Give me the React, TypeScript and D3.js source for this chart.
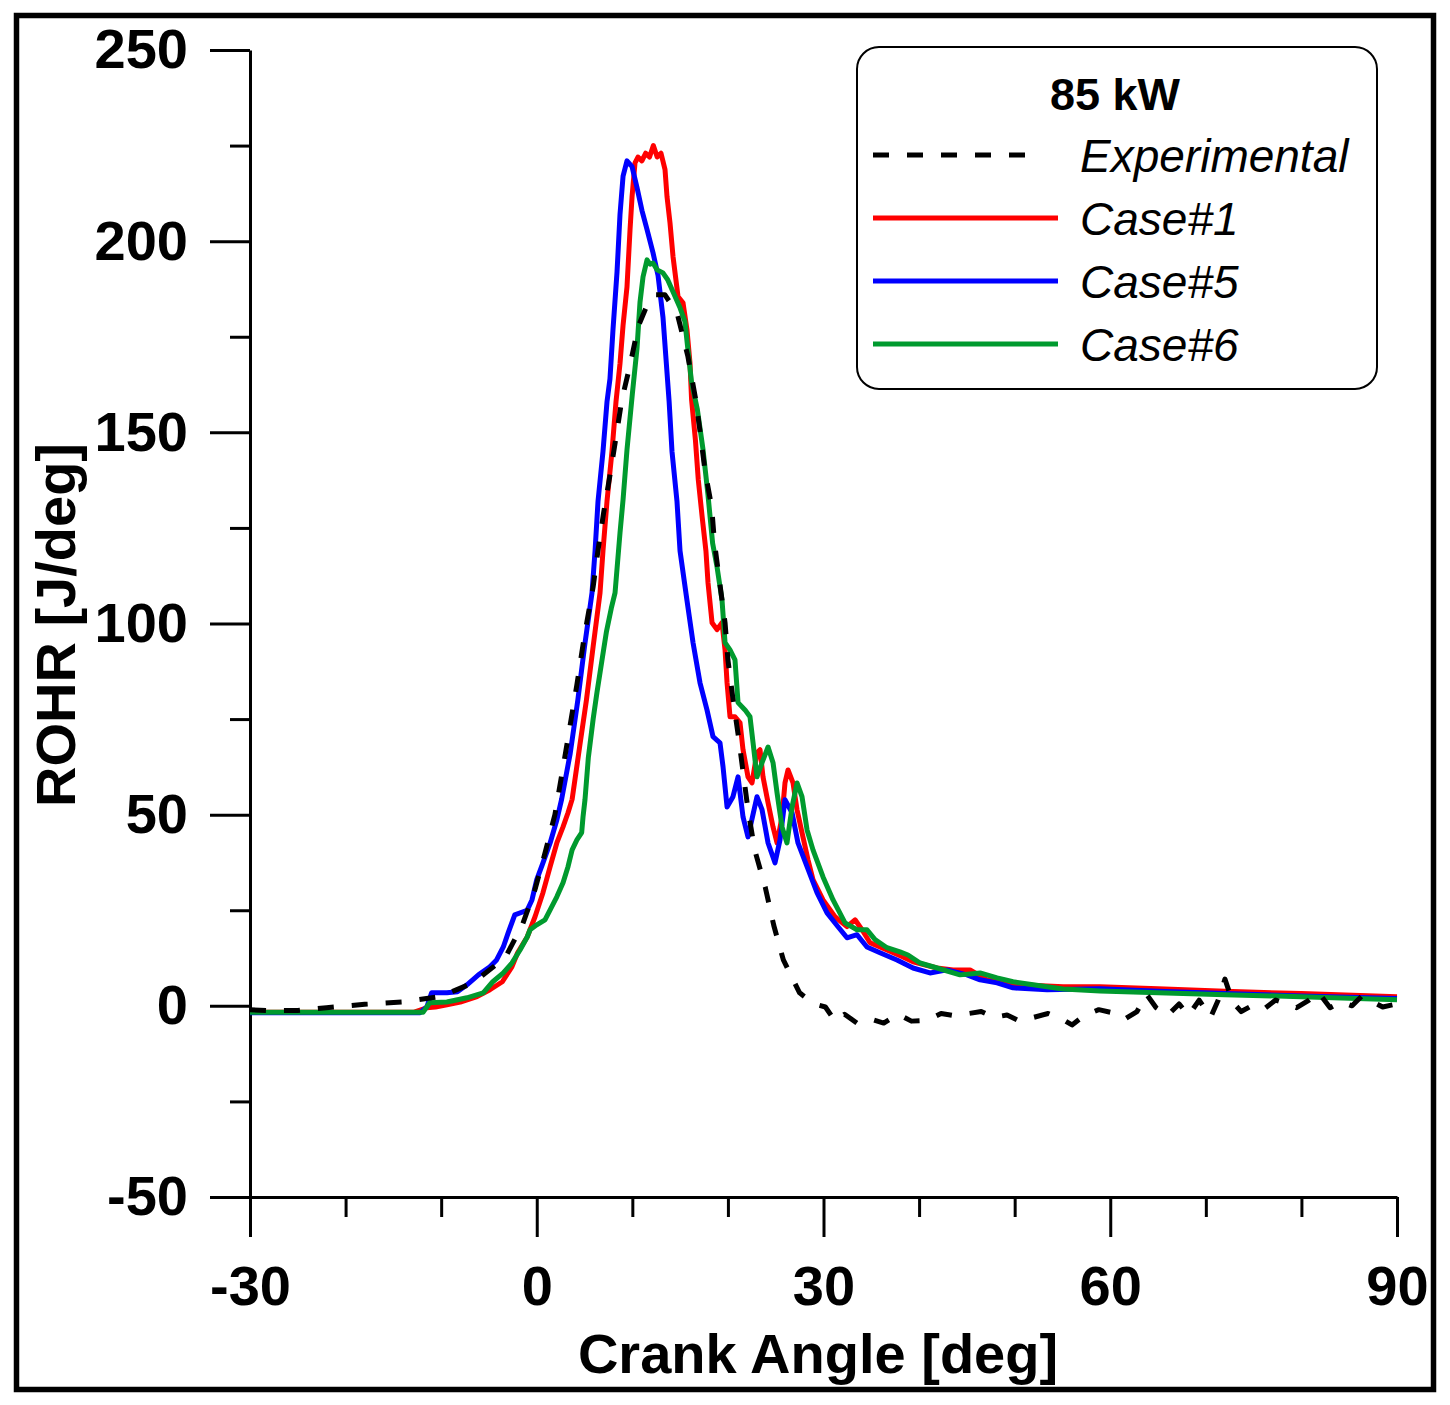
import React, { useEffect, useRef } from "react";
import * as d3 from "d3";

type Pt = [number, number];

// Crank angle [deg], ROHR [J/deg]
const experimental: Pt[] = [
  [-30, -1], [-28, -1.3], [-25, -1.2], [-22, -0.5], [-18, 0.4], [-14.1, 1], [-10.1, 2.4],
  [-6.7, 6], [-3.3, 12.6], [-1.5, 21.2], [-0.2, 30.3], [0.9, 40.3], [1.9, 50], [3, 66],
  [4.2, 84], [5.0, 97], [5.9, 109.6], [6.4, 119], [7.0, 129], [7.7, 139.4], [8.3, 148.8],
  [8.9, 158.5], [9.8, 168], [10.6, 177.6], [11.5, 183], [12.4, 186], [13.4, 186], [14.2, 183],
  [14.7, 181], [15.8, 170], [16.6, 159], [17.1, 150], [17.6, 140], [18.3, 130.5], [18.6, 121],
  [19.2, 109.6], [19.7, 100.2], [20.0, 90.5], [20.5, 80.8], [21.1, 70.4], [21.6, 60.9],
  [22.1, 51.3], [22.8, 40.8], [23.9, 31.1], [24.8, 21], [25.8, 12], [27.5, 3.4], [29, 0.5],
  [30.2, -0.3], [31.2, -4], [32.2, -2.2], [33.5, -4.5], [35, -3.5], [36.3, -4.5], [37.8, -2.2],
  [39.2, -4], [40.8, -3.8], [42.3, -2], [43.8, -2.6], [45.2, -2], [46.5, -1.5], [47.8, -3],
  [49.2, -2.4], [50.5, -4], [52, -3], [53.5, -2], [55, -3.5], [56, -5], [57.3, -2.5], [58.8, -1],
  [60.2, -1.8], [61.5, -3.5], [62.8, -1.5], [63.8, 3], [64.8, -0.5], [66, -2.5], [67.2, 0.5],
  [68.2, -2.5], [69.3, 1.5], [70.5, -3], [71.3, 1.5], [72, 7], [72.8, 1], [73.7, -1.5], [74.8, 0],
  [76, -1], [77.3, 1.5], [78.5, 0.5], [79.5, -0.5], [80.8, 1.5], [81.8, 3.5], [83, -0.5],
  [84.2, 1], [85.3, 0], [86.3, 2.5], [87.5, 1], [88.5, -0.3], [90, 0.5],
];

const case1: Pt[] = [
  [-30, -1.7], [-12.9, -1.7], [-11.5, -0.5], [-10.6, -0.3], [-9.4, 0.3], [-8.0, 1], [-6.25, 2.4],
  [-4.9, 4.2], [-3.6, 6.3], [-2.6, 10.2], [-2.0, 13.9], [-1.0, 18], [-0.18, 23.3], [0.65, 29.6],
  [1.4, 36.4], [2.1, 42.6], [2.75, 46.8], [3.27, 50.5], [3.7, 54], [4.5, 68], [5.2, 80], [5.9, 94],
  [6.62, 108], [6.93, 119], [7.35, 132], [7.87, 145], [8.29, 158], [8.71, 168], [9.03, 178],
  [9.44, 188], [9.76, 203], [9.97, 211.6], [10.28, 220.5], [10.59, 222], [11.0, 221], [11.4, 223],
  [11.8, 222], [12.2, 225], [12.6, 222], [13.0, 223], [13.42, 218.7], [13.63, 211.6], [13.94, 204.8],
  [14.26, 195.9], [14.78, 185.5], [15.3, 183.9], [15.72, 176.8], [16.03, 168.2], [16.2, 158.5],
  [16.6, 148], [16.9, 137.6], [17.3, 128], [17.7, 119], [17.92, 110.6], [18.34, 100.2], [18.86, 98.4],
  [19.38, 100.2], [19.7, 93.1], [19.91, 84.5], [20.22, 75.6], [20.74, 75.6], [21.27, 74], [21.58, 67],
  [22.1, 59.9], [22.52, 58.3], [23.04, 66.2], [23.36, 67], [23.67, 59.9], [24.2, 53.1], [24.72, 46.8],
  [25.14, 42.6], [25.66, 49.4], [25.97, 58.3], [26.29, 61.7], [26.81, 58.3], [27.23, 51.3],
  [27.75, 45.3], [28.38, 38.2], [28.9, 33], [29.95, 27.7], [31.2, 23.3], [32.46, 20.7], [33.3, 22.5],
  [34.03, 19.9], [34.87, 16.5], [36.64, 14.6], [38.32, 12.8], [39.37, 11.5], [41.88, 9.9],
  [43.55, 9.4], [45.33, 9.4], [47.11, 6.8], [50.56, 5.5], [55.06, 5], [58.93, 5], [65, 4.5],
  [72, 3.8], [80, 3.2], [90, 2.4],
];

const case5: Pt[] = [
  [-30, -1.8], [-12.2, -1.8], [-11.5, -0.3], [-11, 3.4], [-9.4, 3.4], [-8.3, 3.7], [-7.3, 5.5],
  [-6.1, 8.1], [-4.9, 10.2], [-4.2, 12], [-3.5, 15.4], [-3.0, 19], [-2.3, 23.8], [-1.0, 25],
  [-0.5, 27.7], [0, 33], [0.65, 37.4], [1.4, 42.6], [2.1, 48.6], [2.6, 54], [3.5, 66], [4.3, 80],
  [5.0, 94], [5.78, 108], [6.1, 119], [6.41, 132], [6.93, 145], [7.35, 158], [7.66, 164],
  [7.98, 177], [8.4, 192], [8.71, 207], [9.03, 217], [9.44, 221], [9.97, 219.5], [10.49, 214],
  [11.01, 208], [11.54, 203], [12.16, 197], [12.69, 191], [13.21, 180], [13.5, 170], [13.85, 158],
  [14.15, 145], [14.67, 132], [14.99, 119], [15.72, 106], [16.35, 95], [17.08, 84.5], [17.81, 77.4],
  [18.44, 70.4], [19.17, 68.8], [19.49, 62.5], [19.91, 52], [20.53, 54.7], [21.06, 59.9],
  [21.58, 49.4], [22.1, 44.2], [23.04, 54.7], [23.57, 51.3], [24.2, 42.6], [24.93, 37.4],
  [25.45, 43.4], [25.97, 53.9], [26.71, 50.5], [27.33, 42.6], [28.28, 36.4], [29.32, 29.6],
  [30.37, 24.3], [31.52, 20.7], [32.46, 17.8], [33.51, 18.6], [34.55, 15.4], [35.91, 13.9],
  [37.69, 12], [39.37, 9.9], [41.14, 8.6], [42.92, 9.4], [45.02, 8.1], [46.38, 6.8], [48.16, 6],
  [49.83, 4.7], [53.39, 4.2], [58.93, 4.5], [65, 3.8], [72, 3.2], [80, 2.6], [90, 1.9],
];

const case6: Pt[] = [
  [-30, -1.7], [-11.9, -1.7], [-11.2, 0.8], [-9.4, 1], [-7.3, 2.1], [-5.6, 3.4], [-4.6, 6.3],
  [-3.5, 8.6], [-2.6, 11.2], [-1.75, 14.6], [-1.0, 18], [-0.7, 19.9], [0, 21.2], [0.86, 22.5],
  [1.4, 25.1], [2.1, 28.5], [2.75, 32.2], [3.27, 36.4], [3.7, 40.8], [4.2, 43.4], [4.7, 45.3],
  [4.84, 49.4], [5.05, 54], [5.4, 65], [5.9, 75], [6.3, 82], [6.8, 90], [7.3, 98], [7.8, 104],
  [8.19, 108], [8.71, 123.7], [9.03, 132.4], [9.44, 145.4], [10.0, 160], [10.49, 172], [10.8, 184],
  [11.12, 190.7], [11.54, 195.1], [11.85, 194], [12.16, 194.3], [12.6, 192.5], [13.2, 191.7],
  [13.7, 189.9], [14.3, 186.5], [15.0, 182.5], [15.5, 179], [15.8, 172], [16.2, 163], [16.8, 156],
  [17.4, 145.4], [17.9, 134], [18.4, 121], [18.86, 114.8], [19.38, 106.2], [19.7, 95], [20.22, 93.1],
  [20.74, 90.5], [21.06, 79.3], [21.79, 77.4], [22.31, 75.6], [22.63, 68.8], [23.04, 59.9],
  [23.57, 63.6], [24.2, 67.7], [24.72, 63.6], [25.14, 55.7], [25.66, 46.8], [26.18, 42.6],
  [26.71, 52], [27.23, 58.3], [27.75, 54.7], [28.28, 46], [28.9, 40.8], [29.95, 33.7], [31, 27.7],
  [32.25, 21.7], [33.51, 19.9], [34.55, 19.9], [35.39, 17.3], [36.64, 15.2], [38, 14.1],
  [38.84, 13.3], [40.1, 11.2], [41.88, 9.9], [44.28, 8.1], [46.38, 8.6], [48.16, 7.3], [49.83, 6.3],
  [53.39, 5], [55.06, 4.4], [58.93, 3.9], [65, 3.4], [72, 2.9], [80, 2.4], [90, 1.6],
];

const xMajor = [-30, 0, 30, 60, 90];
const xMinor = [-20, -10, 10, 20, 40, 50, 70, 80];
const yMajor = [-50, 0, 50, 100, 150, 200, 250];
const yMinor = [-25, 25, 75, 125, 175, 225];

const legendTitle = "85 kW";
const legendItems = [
  { label: "Experimental", color: "#000000", dash: "16 18", data: experimental },
  { label: "Case#1", color: "#ff0000", dash: null, data: case1 },
  { label: "Case#5", color: "#0000ff", dash: null, data: case5 },
  { label: "Case#6", color: "#009a2e", dash: null, data: case6 },
];

const FONT = "'Liberation Sans', Arial, Helvetica, sans-serif";

const App: React.FC = () => {
  const svgRef = useRef<SVGSVGElement | null>(null);
  const width = 1450;
  const height = 1405;

  useEffect(() => {
    if (!svgRef.current) return;
    const svg = d3.select(svgRef.current);
    svg.selectAll("*").remove();

    const x = d3.scaleLinear().domain([-30, 90]).range([250, 1397]);
    const y = d3.scaleLinear().domain([-50, 250]).range([1197, 50]);

    // Outer frame
    svg.append("rect")
      .attr("x", 16.5).attr("y", 15.5)
      .attr("width", 1417).attr("height", 1374)
      .attr("fill", "white").attr("stroke", "black").attr("stroke-width", 5.5);

    // Minor ticks
    const yMinorAxis = d3.axisLeft(y).tickValues(yMinor).tickSize(20).tickFormat(() => "").tickSizeOuter(0);
    svg.append("g").attr("transform", "translate(250,0)").call(yMinorAxis)
      .call((g) => g.select(".domain").remove());
    const xMinorAxis = d3.axisBottom(x).tickValues(xMinor).tickSize(20).tickFormat(() => "").tickSizeOuter(0);
    svg.append("g").attr("transform", "translate(0,1197)").call(xMinorAxis)
      .call((g) => g.select(".domain").remove());

    // Major axes
    const yAxis = d3.axisLeft(y).tickValues(yMajor).tickSize(40).tickPadding(22)
      .tickSizeOuter(0).tickFormat((d) => String(d));
    svg.append("g").attr("class", "yaxis").attr("transform", "translate(250,0)").call(yAxis);
    const xAxis = d3.axisBottom(x).tickValues(xMajor).tickSize(40).tickPadding(28)
      .tickSizeOuter(0).tickFormat((d) => String(d));
    svg.append("g").attr("class", "xaxis").attr("transform", "translate(0,1197)").call(xAxis);

    svg.selectAll(".tick line").attr("stroke", "black").attr("stroke-width", 3);
    svg.selectAll(".domain").attr("stroke", "black").attr("stroke-width", 3);
    svg.selectAll(".tick text")
      .attr("font-family", FONT).attr("font-weight", "bold")
      .attr("font-size", 56).attr("fill", "black");

    // Axis titles
    svg.append("text")
      .attr("x", 818).attr("y", 1373)
      .attr("text-anchor", "middle")
      .attr("font-family", FONT).attr("font-weight", "bold").attr("font-size", 56)
      .text("Crank Angle [deg]");
    svg.append("text")
      .attr("transform", "translate(75,625) rotate(-90)")
      .attr("text-anchor", "middle")
      .attr("font-family", FONT).attr("font-weight", "bold").attr("font-size", 56)
      .text("ROHR [J/deg]");

    // Curves
    const line = d3.line<Pt>().x((d) => x(d[0])).y((d) => y(d[1]));
    const drawOrder = [legendItems[1], legendItems[2], legendItems[3], legendItems[0]];
    drawOrder.forEach((s) => {
      svg.append("path")
        .datum(s.data)
        .attr("fill", "none")
        .attr("stroke", s.color)
        .attr("stroke-width", 5)
        .attr("stroke-linejoin", "round")
        .attr("stroke-dasharray", s.dash ?? null)
        .attr("d", line);
    });

    // Legend
    const lg = svg.append("g");
    lg.append("rect")
      .attr("x", 857).attr("y", 47).attr("width", 520).attr("height", 342)
      .attr("rx", 22).attr("ry", 22)
      .attr("fill", "white").attr("stroke", "black").attr("stroke-width", 2);
    lg.append("text")
      .attr("x", 1115).attr("y", 110).attr("text-anchor", "middle")
      .attr("font-family", FONT).attr("font-weight", "bold").attr("font-size", 45)
      .text(legendTitle);
    legendItems.forEach((s, i) => {
      const ly = 155 + i * 63;
      lg.append("line")
        .attr("x1", 873).attr("x2", s.dash ? 1040 : 1058)
        .attr("y1", ly).attr("y2", ly)
        .attr("stroke", s.color).attr("stroke-width", 5)
        .attr("stroke-dasharray", s.dash ?? null);
      lg.append("text")
        .attr("x", 1080).attr("y", ly + 17)
        .attr("font-family", FONT).attr("font-style", "italic").attr("font-size", 46)
        .text(s.label);
    });
  }, []);

  return (
    <svg
      ref={svgRef}
      width={width}
      height={height}
      style={{ position: "absolute", left: 0, top: 0, display: "block", background: "white" }}
    />
  );
};

export default App;
